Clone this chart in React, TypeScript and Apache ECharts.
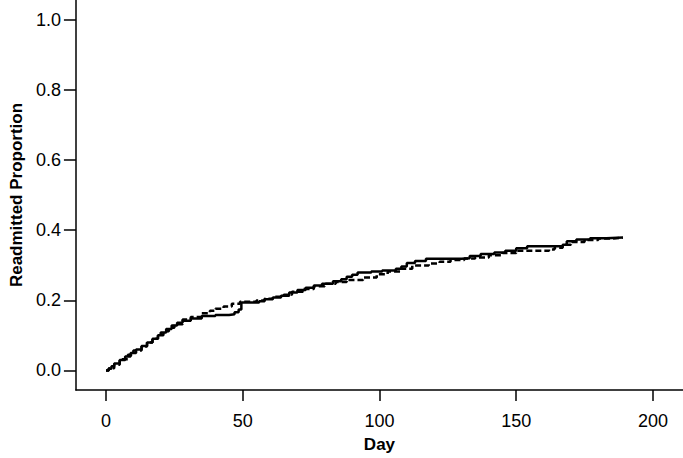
import React, { useEffect, useRef } from "react";
import * as echarts from "echarts";

const xTicks = [0, 50, 100, 150, 200];
const yTicks = [0, 0.2, 0.4, 0.6, 0.8, 1.0];

const solidDays = [0, 1, 2, 3, 5, 7, 9, 11, 13, 15, 17, 19, 20, 22, 24, 26, 28, 31, 35, 40, 45, 47, 48.5, 49.5, 56, 58, 61, 64, 67, 70, 73, 76, 79, 83, 86, 88, 90, 92, 97, 101, 106, 108, 110, 113, 117, 130, 133, 137, 142, 146, 150, 154, 167, 168.5, 172, 177, 183, 189];
const solidVals = [0, 0.005, 0.012, 0.02, 0.03, 0.04, 0.05, 0.06, 0.07, 0.08, 0.09, 0.1, 0.108, 0.118, 0.128, 0.136, 0.142, 0.148, 0.155, 0.158, 0.16, 0.166, 0.174, 0.194, 0.197, 0.203, 0.208, 0.213, 0.222, 0.229, 0.236, 0.242, 0.247, 0.254, 0.26, 0.267, 0.273, 0.279, 0.282, 0.285, 0.29, 0.296, 0.306, 0.312, 0.318, 0.32, 0.326, 0.332, 0.336, 0.341, 0.348, 0.354, 0.358, 0.368, 0.373, 0.377, 0.379, 0.38];

const dashedDays = [0, 1, 3, 5, 8, 10, 13, 15, 17, 19, 21, 23, 25, 28, 31, 35, 38, 40, 43, 46, 49, 55, 58, 61, 65, 68, 72, 76, 80, 84, 88, 94, 99, 103, 108, 112, 118, 122, 126, 131, 135, 140, 145, 150, 162, 164, 167, 170, 175, 180, 185, 189];
const dashedVals = [0, 0.006, 0.016, 0.032, 0.045, 0.057, 0.068, 0.08, 0.09, 0.1, 0.112, 0.122, 0.132, 0.145, 0.152, 0.163, 0.17, 0.176, 0.182, 0.19, 0.196, 0.199, 0.204, 0.21, 0.216, 0.224, 0.232, 0.24, 0.247, 0.252, 0.258, 0.265, 0.274, 0.282, 0.29, 0.299, 0.305, 0.31, 0.315, 0.319, 0.322, 0.328, 0.335, 0.341, 0.345, 0.35, 0.358, 0.366, 0.372, 0.376, 0.378, 0.38];

export default function App() {
  const ref = useRef<HTMLDivElement>(null);
  useEffect(() => {
    if (!ref.current) return;
    const chart = echarts.init(ref.current, null, { renderer: "svg" });
    const font = "Liberation Sans, Arial, sans-serif";
    chart.setOption({
      animation: false,
      grid: { left: 57, right: 0, top: 0, bottom: 59 },
      xAxis: {
        type: "value",
        min: -11,
        max: 211,
        interval: 50,
        name: "Day",
        nameLocation: "middle",
        nameGap: 46,
        nameTextStyle: { fontFamily: font, fontSize: 17, fontWeight: "bold", color: "#000" },
        axisLine: { onZero: false, lineStyle: { color: "#000", width: 1.5 } },
        axisTick: { show: true, length: 11, lineStyle: { color: "#000", width: 1.5 }, customValues: xTicks },
        axisLabel: { fontFamily: font, fontSize: 18, color: "#000", margin: 22, customValues: xTicks },
        splitLine: { show: false },
      },
      yAxis: {
        type: "value",
        min: -0.0557,
        max: 1.0557,
        name: "Readmitted Proportion",
        nameLocation: "middle",
        nameGap: 48,
        nameTextStyle: { fontFamily: font, fontSize: 17, fontWeight: "bold", color: "#000" },
        axisLine: { show: true, onZero: false, lineStyle: { color: "#000", width: 1.5 } },
        axisTick: { show: true, length: 12, lineStyle: { color: "#000", width: 1.5 }, customValues: yTicks },
        axisLabel: {
          fontFamily: font,
          fontSize: 18,
          color: "#000",
          margin: 15,
          customValues: yTicks,
          formatter: (v: number) => v.toFixed(1),
        },
        splitLine: { show: false },
      },
      series: [
        {
          type: "line",
          step: "end",
          showSymbol: false,
          data: dashedDays.map((d, i) => [d, dashedVals[i]]),
          lineStyle: { color: "#000", width: 2.5, type: [6, 3] },
        },
        {
          type: "line",
          step: "end",
          showSymbol: false,
          data: solidDays.map((d, i) => [d, solidVals[i]]),
          lineStyle: { color: "#000", width: 2.5 },
        },
      ],
    });
    return () => chart.dispose();
  }, []);
  return <div ref={ref} style={{ width: 683, height: 458, position: "absolute", left: 0, top: 0 }} />;
}
